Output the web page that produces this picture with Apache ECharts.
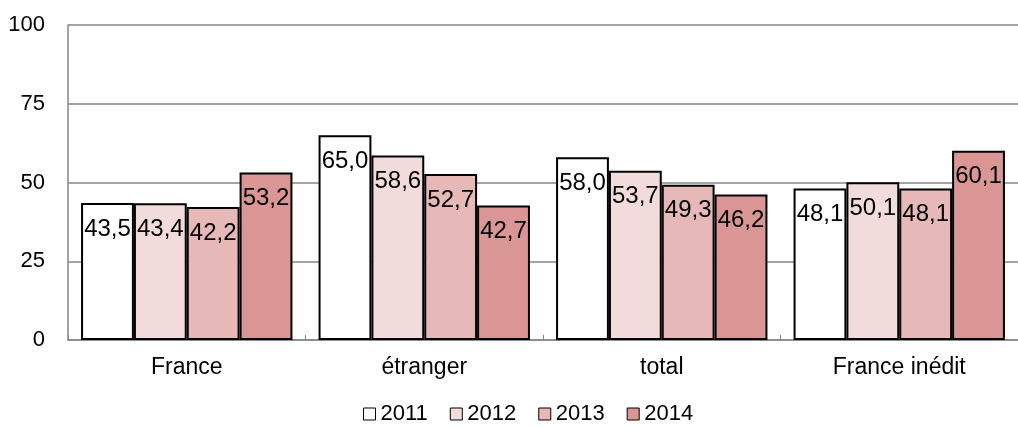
<!DOCTYPE html>
<html>
<head>
<meta charset="utf-8">
<script src="https://cdn.jsdelivr.net/npm/echarts@6/dist/echarts.min.js"></script>
<style>
  html, body { margin: 0; padding: 0; background: #fff; }
  #chart { width: 1018px; height: 428px; }
</style>
</head>
<body>
<div id="chart"></div>
<script>
  var categories = ['France', 'étranger', 'total', 'France inédit']
  var years = ['2011', '2012', '2013', '2014']
  var values2011 = [43.5, 65.0, 58.0, 48.1]
  var values2012 = [43.4, 58.6, 53.7, 50.1]
  var values2013 = [42.2, 52.7, 49.3, 48.1]
  var values2014 = [53.2, 42.7, 46.2, 60.1]
  var yTicks = [0, 25, 50, 75, 100]

  var barColors = ['#ffffff', '#f2dcdb', '#e6b9b8', '#d99694']
  var gridColor = '#868686'
  var fontName = '"Liberation Sans", Arial, sans-serif'

  var chart = echarts.init(document.getElementById('chart'))

  function makeSeries(name, data, color) {
    return {
      name: name,
      type: 'bar',
      data: data,
      barGap: '0%',
      barCategoryGap: '11%',
      itemStyle: {
        color: color,
        borderColor: '#000',
        borderWidth: 2
      },
      label: {
        show: true,
        position: 'insideTop',
        distance: 14,
        color: '#000',
        fontFamily: fontName,
        fontSize: 24,
        formatter: function (p) {
          return p.value.toFixed(1).replace('.', ',')
        }
      }
    }
  }

  chart.setOption({
    animation: false,
    backgroundColor: '#fff',
    grid: {
      left: 68,
      right: -7,
      top: 25,
      bottom: 88
    },
    legend: {
      left: 358,
      top: 398,
      icon: 'rect',
      itemWidth: 12,
      itemHeight: 12,
      itemGap: 22,
      itemStyle: { borderColor: '#000', borderWidth: 1 },
      textStyle: { fontFamily: fontName, fontSize: 22, color: '#000' },
      data: years
    },
    xAxis: {
      type: 'category',
      data: categories,
      axisLine: { lineStyle: { color: gridColor, width: 1.5 } },
      axisTick: { show: true, inside: true, length: 5, lineStyle: { color: gridColor } },
      axisLabel: { margin: 16, color: '#000', fontFamily: fontName, fontSize: 23 }
    },
    yAxis: {
      type: 'value',
      min: yTicks[0],
      max: yTicks[yTicks.length - 1],
      interval: 25,
      axisLine: { show: true, lineStyle: { color: gridColor, width: 1.5 } },
      axisTick: { show: false },
      splitLine: { lineStyle: { color: gridColor, width: 1.5 } },
      axisLabel: { margin: 23, color: '#000', fontFamily: fontName, fontSize: 22 }
    },
    series: [
      makeSeries(years[0], values2011, barColors[0]),
      makeSeries(years[1], values2012, barColors[1]),
      makeSeries(years[2], values2013, barColors[2]),
      makeSeries(years[3], values2014, barColors[3])
    ]
  })
</script>
</body>
</html>
